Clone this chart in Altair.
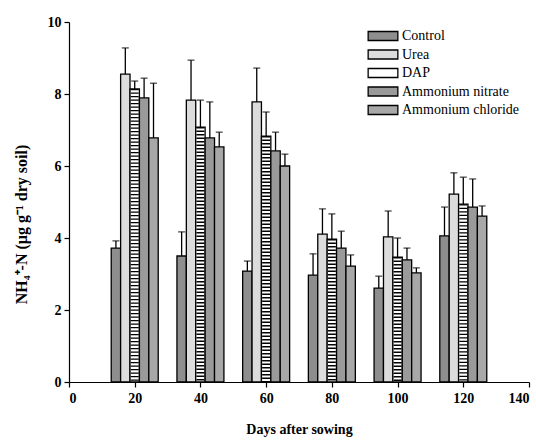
import altair as alt
import pandas as pd

days = [20, 40, 60, 80, 100, 120]
series = ["Control", "Urea", "DAP", "Ammonium nitrate", "Ammonium chloride"]
control = [3.72, 3.50, 3.08, 2.97, 2.61, 4.06]
urea = [8.55, 7.83, 7.78, 4.11, 4.03, 5.22]
dap = [8.14, 7.08, 6.83, 3.97, 3.47, 4.94]
amm_nitrate = [7.89, 6.78, 6.42, 3.72, 3.39, 4.86]
amm_chloride = [6.78, 6.53, 6.00, 3.22, 3.03, 4.61]
control_err = [0.20, 0.67, 0.28, 0.59, 0.33, 0.80]
urea_err = [0.73, 1.11, 0.94, 0.70, 0.72, 0.59]
dap_err = [0.22, 0.75, 0.67, 0.70, 0.53, 0.75]
amm_nitrate_err = [0.55, 1.00, 0.52, 0.47, 0.33, 0.78]
amm_chloride_err = [1.52, 0.41, 0.33, 0.31, 0.14, 0.28]

vals = [control, urea, dap, amm_nitrate, amm_chloride]
errs = [control_err, urea_err, dap_err, amm_nitrate_err, amm_chloride_err]
rows = []
for i, s in enumerate(series):
    for j, d in enumerate(days):
        rows.append({"day": d, "series": s, "idx": i, "value": vals[i][j], "err": errs[i][j]})
df = pd.DataFrame(rows)

font = "Liberation Serif"
half = 1.43
base = alt.Chart(df).transform_calculate(
    xc="datum.day + (datum.idx - 2) * 2.86",
    x1=f"datum.day + (datum.idx - 2) * 2.86 - {half}",
    x2=f"datum.day + (datum.idx - 2) * 2.86 + {half}",
    top="datum.value + datum.err",
)

xscale = alt.Scale(domain=[0, 140], nice=False, zero=True)
yscale = alt.Scale(domain=[0, 10], nice=False)

bars = base.mark_bar(stroke="black", strokeWidth=1.3).encode(
    x=alt.X("x1:Q", scale=xscale, axis=alt.Axis(
        title="Days after sowing", values=[0, 20, 40, 60, 80, 100, 120, 140],
        grid=False, tickSize=5, labelPadding=4, titlePadding=17)),
    x2="x2:Q",
    y=alt.Y("value:Q", scale=yscale, axis=alt.Axis(
        title="NH₄⁺-N (µg g⁻¹ dry soil)", values=[0, 2, 4, 6, 8, 10],
        grid=False, tickSize=5, labelPadding=3, titlePadding=18,
        titleFontSize=16, titleY=202)),
    y2=alt.datum(0),
    fill=alt.Fill("series:N", sort=series, scale=alt.Scale(
        domain=series, range=["#8e8e8e", "#dcdcdc", "#ffffff", "#9a9a9a", "#a8a8a8"]),
        legend=alt.Legend(title=None, orient="none", legendX=307, legendY=7, padding=0,
                          symbolType="M-3.3,-1H3.3V1H-3.3Z", symbolSize=81,
                          symbolStrokeColor="black", symbolStrokeWidth=1.3,
                          labelFont=font, labelFontSize=14, rowPadding=2.5,
                          labelOffset=12, symbolOpacity=1)),
)

stripes = base.transform_filter("datum.series == 'DAP'").mark_rule(
    color="black", strokeWidth=8, strokeDash=[1.3, 2.2]).encode(
    x=alt.X("xc:Q", scale=xscale), y=alt.Y("value:Q", scale=yscale), y2=alt.datum(0))

err_line = base.mark_rule(color="black", strokeWidth=1.3).encode(
    x=alt.X("xc:Q", scale=xscale), y=alt.Y("value:Q", scale=yscale), y2="top:Q")
caps = base.mark_tick(color="black", thickness=1.3, size=7, orient="horizontal").encode(
    x=alt.X("xc:Q", scale=xscale), y=alt.Y("top:Q", scale=yscale))

chart = alt.layer(bars, stripes, err_line, caps).properties(
    width=460, height=360,
    autosize=alt.AutoSizeParams(type="none"),
    padding={"left": 69, "top": 22, "right": 7, "bottom": 61},
    background="white",
).configure(font=font).configure_view(stroke=None).configure_axis(
    domainColor="black", tickColor="black", domainWidth=1.2, tickWidth=1.2,
    labelFont=font, labelFontSize=14, labelFontWeight="bold", labelColor="black",
    titleFont=font, titleFontSize=14, titleFontWeight="bold", titleColor="black",
).configure_legend(labelFont=font, labelFontSize=14, labelColor="black")

chart.save("out.html", embed_options={"renderer": "svg", "actions": False})
